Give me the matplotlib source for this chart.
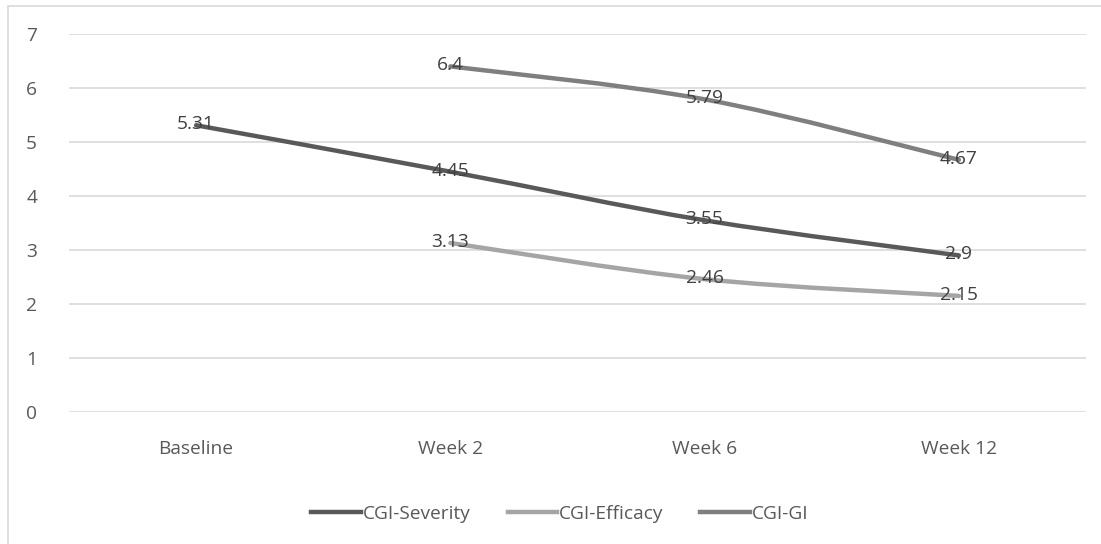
import matplotlib
matplotlib.use("Agg")
import matplotlib.pyplot as plt
from matplotlib.path import Path
from matplotlib.patches import PathPatch, Rectangle
from matplotlib.lines import Line2D
import numpy as np

categories = ["Baseline", "Week 2", "Week 6", "Week 12"]
severity = [5.31, 4.45, 3.55, 2.9]
efficacy = [None, 3.13, 2.46, 2.15]
gi = [None, 6.4, 5.79, 4.67]
series_names = ["CGI-Severity", "CGI-Efficacy", "CGI-GI"]
series_colors = ["#595959", "#A5A5A5", "#7F7F7F"]
yticks = [0, 1, 2, 3, 4, 5, 6, 7]

plt.rcParams['font.family'] = ['Open Sans', 'DejaVu Sans']
FS = 13.8

W, H = 1101, 544
fig = plt.figure(figsize=(W / 100, H / 100), dpi=100)
ax = fig.add_axes([69 / W, 1 - 412 / H, (1086 - 69) / W, (412 - 34) / H])

# outer chart border (cropped at right & bottom)
fig.patches.append(Rectangle((8 / W, -0.05), 1.2, 1 - 6 / H + 0.05, transform=fig.transFigure,
                             fill=False, edgecolor="#D9D9D9", linewidth=1.2))


def smooth_path(xs, ys):
    pts = np.column_stack([xs, ys])
    verts = [pts[0]]
    codes = [Path.MOVETO]
    n = len(pts)
    for i in range(n - 1):
        p0 = pts[i - 1] if i > 0 else pts[i]
        p1 = pts[i]
        p2 = pts[i + 1]
        p3 = pts[i + 2] if i + 2 < n else pts[i + 1]
        c1 = p1 + (p2 - p0) / 6.0
        c2 = p2 - (p3 - p1) / 6.0
        verts += [c1, c2, p2]
        codes += [Path.CURVE4, Path.CURVE4, Path.CURVE4]
    return Path(verts, codes)


handles = []
for name, vals, col in zip(series_names, [severity, efficacy, gi], series_colors):
    xs = [i for i, v in enumerate(vals) if v is not None]
    ys = [v for v in vals if v is not None]
    patch = PathPatch(smooth_path(xs, ys), facecolor="none", edgecolor=col, linewidth=3.2,
                      capstyle="round", joinstyle="round", zorder=3)
    ax.add_patch(patch)
    for x, y in zip(xs, ys):
        ax.text(x, y + 0.02, f"{y:g}", ha="center", va="center", fontsize=FS, color="#404040", zorder=4)
    handles.append(Line2D([], [], color=col, linewidth=3.2, label=name))

ax.set_xlim(-0.5, len(categories) - 0.5)
ax.set_ylim(0, 7)
ax.set_yticks(yticks)
ax.set_xticks(range(len(categories)))
ax.set_xticklabels(categories)
ax.tick_params(axis="both", length=0, labelsize=FS, labelcolor="#595959")
ax.tick_params(axis="x", pad=20)
ax.tick_params(axis="y", pad=23)
ax.grid(axis="y", color="#D9D9D9", linewidth=1.2)
ax.set_axisbelow(True)
for s in ax.spines.values():
    s.set_visible(False)

fig.legend(handles=handles, loc="center", bbox_to_anchor=(560 / W, 1 - 514 / H), ncol=3,
           frameon=False, fontsize=FS, labelcolor="#595959", handlelength=2.6,
           handletextpad=0.1, columnspacing=1.9)

fig.savefig("out.png", dpi=100, facecolor="white")
